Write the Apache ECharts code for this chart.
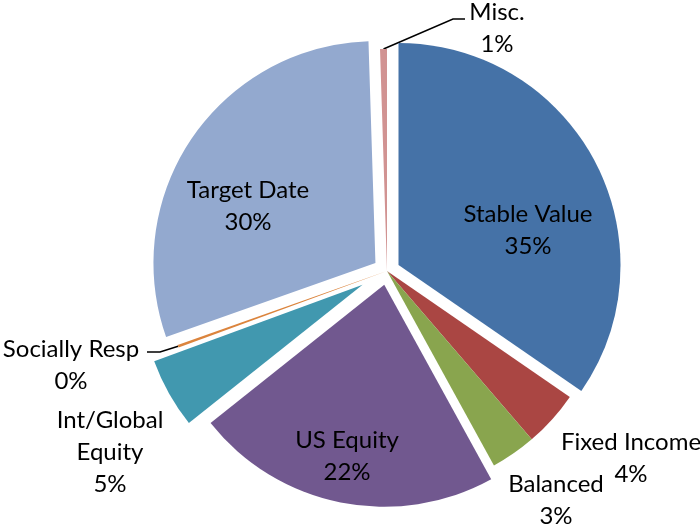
<!DOCTYPE html>
<html>
<head>
<meta charset="utf-8">
<script src="https://cdn.jsdelivr.net/npm/echarts@6/dist/echarts.min.js"></script>
<style>
  html, body { margin: 0; padding: 0; background: #fff; }
  #root { width: 700px; height: 526px; }
</style>
</head>
<body>
<div id="root"></div>
<script>
const categories = ['Stable Value', 'Fixed Income', 'Balanced', 'US Equity', 'Int/Global\nEquity', 'Socially Resp', 'Target Date', 'Misc.'];
const shares = [34.6, 4.1, 3.3, 22.3, 5.1, 0.2, 29.9, 0.5];
const colors = ['#4572A7', '#AA4643', '#89A54E', '#71588F', '#4198AF', '#DB843D', '#93A9CF', '#D19392'];

// how far each slice is pulled out of the pie (px)
const explodeBy = [13, 0, 0, 14, 28, 0, 14, 0];
// label anchor (block centre) for each slice, and guide line elbows
const labelPos = [[528, 230], [631, 458], [556, 500], [347, 456], [110, 452], [71, 365], [248, 206], [497, 28]];
const guideLines = { 5: [[160, 352], [147, 352]], 7: [[453, 19], [465, 19]] };

const CX = 387, CY = 271, R = 222;

const container = document.getElementById('root');
const myChart = echarts.init(container);

const total = shares.reduce((a, b) => a + b, 0);
let cum = 0;
const midAngles = shares.map(v => {
  const mid = (cum + v / 2) / total * 2 * Math.PI;
  cum += v;
  return mid;
});

// one pie series per slice so that exploded slices can sit on a shifted centre
const series = categories.map((_, k) => {
  const d = explodeBy[k];
  return {
    type: 'pie',
    center: [CX + d * Math.sin(midAngles[k]), CY - d * Math.cos(midAngles[k])],
    radius: R,
    startAngle: 90,
    clockwise: true,
    percentPrecision: 0,
    avoidLabelOverlap: false,
    silent: true,
    emphasis: { disabled: true },
    label: {
      show: true,
      position: 'outside',
      formatter: '{b}\n{d}%',
      fontFamily: 'Lato',
      fontSize: 24,
      lineHeight: 32,
      color: '#000',
      align: 'center',
      width: 220,
      overflow: 'none'
    },
    labelLine: {
      show: false,
      lineStyle: { color: '#000', width: 1.5 }
    },
    labelLayout: params => {
      const i = params.dataIndex;
      const out = { x: labelPos[i][0], y: labelPos[i][1], align: 'center', verticalAlign: 'middle' };
      if (guideLines[i] && params.labelLinePoints) {
        out.labelLinePoints = [params.labelLinePoints[0], ...guideLines[i]];
      }
      return out;
    },
    data: categories.map((name, i) => ({
      name,
      value: shares[i],
      itemStyle: { color: i === k ? colors[i] : 'rgba(0,0,0,0)' },
      label: { show: i === k },
      labelLine: { show: i === k && !!guideLines[i] }
    }))
  };
});

myChart.setOption({ animation: false, series });

window.onresize = () => myChart.resize();
</script>
</body>
</html>
